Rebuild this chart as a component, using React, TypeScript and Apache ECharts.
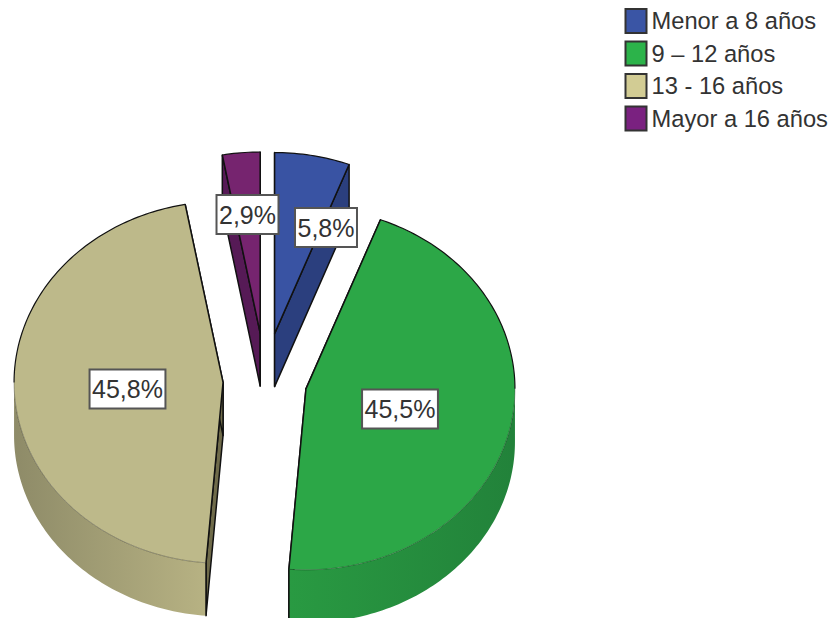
import React, { useEffect, useRef } from "react";
import * as echarts from "echarts";

const categories = ["Menor a 8 años", "9 – 12 años", "13 - 16 años", "Mayor a 16 años"];
const shares = [5.8, 45.5, 45.8, 2.9];

// styles, one entry per category
const topColors = ["#3953a3", "#2ca747", "#bdb98a", "#76246f"];
const legendColors = ["#3a55a5", "#2cb34a", "#d2cc94", "#7a2180"];
const faceColors = ["#2b3f7e", "#238238", "#6f6b4a", "#561a56"];
const wallFrom = ["#2b3f7e", "#299a42", "#8e8b68", "#561a56"];
const wallTo = ["#2b3f7e", "#22823a", "#b7b283", "#561a56"];

// layout of the pseudo-3D pie
const CX = 265;
const CY = 380.5;
const RX = 209;
const RY = 181;
const DEPTH = 53;
const EXPLODE_Y = 0.9;
const explodeBy = [53, 42, 42, 53];
const labelCentres = [
  [326, 227.5],
  [400, 409],
  [127.5, 389],
  [247.5, 214.5],
];

const FONT = "'Liberation Sans', Arial, sans-serif";
const INK = "#111111";

function renderSlice(index: number) {
  return (_params: any, api: any) => {
    const share = api.value(0) as number;
    const before = api.value(1) as number;
    const a1 = (before / 100) * Math.PI * 2;
    const a2 = ((before + share) / 100) * Math.PI * 2;
    const mid = (a1 + a2) / 2;
    const ax = CX + Math.sin(mid) * explodeBy[index];
    const ay = CY - Math.cos(mid) * explodeBy[index] * EXPLODE_Y;
    const pt = (a: number, dy = 0): number[] => [ax + Math.sin(a) * RX, ay - Math.cos(a) * RY + dy];
    const apex = (dy = 0): number[] => [ax, ay + dy];
    const arc = (from: number, to: number, dy = 0): number[][] => {
      const steps = Math.max(2, Math.ceil(Math.abs(to - from) / 0.02));
      const out: number[][] = [];
      for (let s = 0; s <= steps; s++) out.push(pt(from + ((to - from) * s) / steps, dy));
      return out;
    };
    const poly = (points: number[][], style: any, z2: number) => ({
      type: "polygon",
      z2,
      shape: { points },
      style,
    });
    const line = (points: number[][], stroke: string, lineWidth: number, z2: number) => ({
      type: "polyline",
      z2,
      shape: { points },
      style: { fill: "none", stroke, lineWidth, lineJoin: "round" },
    });
    const children: any[] = [];

    // flat cut faces
    [a1, a2].forEach((a) => {
      children.push(
        poly(
          [apex(), pt(a), pt(a, DEPTH), apex(DEPTH)],
          { fill: faceColors[index], stroke: INK, lineWidth: 1.5, lineJoin: "round" },
          1,
        ),
      );
    });

    // outer wall, front half only
    const front1 = Math.max(a1, Math.PI / 2);
    const front2 = Math.min(a2, (Math.PI * 3) / 2);
    if (front2 > front1) {
      children.push(
        poly([...arc(front1, front2), ...arc(front2, front1, DEPTH)], {
          fill: new echarts.graphic.LinearGradient(0, 0, 1, 0, [
            { offset: 0, color: wallFrom[index] },
            { offset: 1, color: wallTo[index] },
          ]),
        }, 2),
      );
      // silhouette line at the cut next to the wall
      const cut = a1 > Math.PI ? a1 : a2;
      children.push(line([pt(cut), pt(cut, DEPTH)], INK, 1.5, 3));
    }

    // top surface
    children.push(poly([apex(), ...arc(a1, a2)], { fill: topColors[index] }, 4));

    // faint front rim
    if (front2 > front1) {
      children.push(line(arc(front1, front2), "rgba(0,0,0,0.3)", 1, 5));
    }

    // dark edges: radii and the back rim
    children.push(line([pt(a1), apex(), pt(a2)], INK, 1.5, 6));
    if (a1 < Math.PI / 2) {
      children.push(line(arc(a1, Math.min(a2, Math.PI / 2)), INK, 1.2, 6));
    }
    if (a2 > (Math.PI * 3) / 2) {
      children.push(line(arc(Math.max(a1, (Math.PI * 3) / 2), a2), INK, 1.2, 6));
    }

    // value label
    children.push({
      type: "text",
      z2: 100,
      x: labelCentres[index][0],
      y: labelCentres[index][1],
      style: {
        text: `${share.toFixed(1).replace(".", ",")}%`,
        font: `25px ${FONT}`,
        fill: "#333333",
        align: "center",
        verticalAlign: "middle",
        backgroundColor: "#ffffff",
        borderColor: "#555555",
        borderWidth: 2,
        padding: [7, 1.5, 5, 1.5],
      },
    });

    return { type: "group", children };
  };
}

export default function App() {
  const ref = useRef<HTMLDivElement>(null);

  useEffect(() => {
    document.body.style.margin = "0";
    const chart = echarts.init(ref.current!, undefined, { renderer: "svg" });
    let running = 0;
    const series = categories.map((name, i) => {
      const before = running;
      running += shares[i];
      return {
        type: "custom",
        name,
        coordinateSystem: "none",
        silent: true,
        clip: false,
        itemStyle: { color: legendColors[i] },
        data: [[shares[i], before]],
        renderItem: renderSlice(i),
      };
    });
    chart.setOption({
      animation: false,
      backgroundColor: "#ffffff",
      legend: {
        orient: "vertical",
        left: 624.5,
        top: 8,
        padding: 0,
        itemWidth: 21,
        itemHeight: 24,
        itemGap: 6.5,
        selectedMode: false,
        icon: "rect",
        textStyle: {
          fontFamily: "Liberation Sans",
          fontSize: 23.7,
          color: "#333333",
        },
        data: categories.map((name, i) => ({
          name,
          icon: "rect",
          itemStyle: { color: legendColors[i], borderColor: "#333333", borderWidth: 2 },
        })),
      },
      series,
    } as any);
    return () => chart.dispose();
  }, []);

  return <div ref={ref} style={{ width: 833, height: 618, overflow: "hidden" }} />;
}
